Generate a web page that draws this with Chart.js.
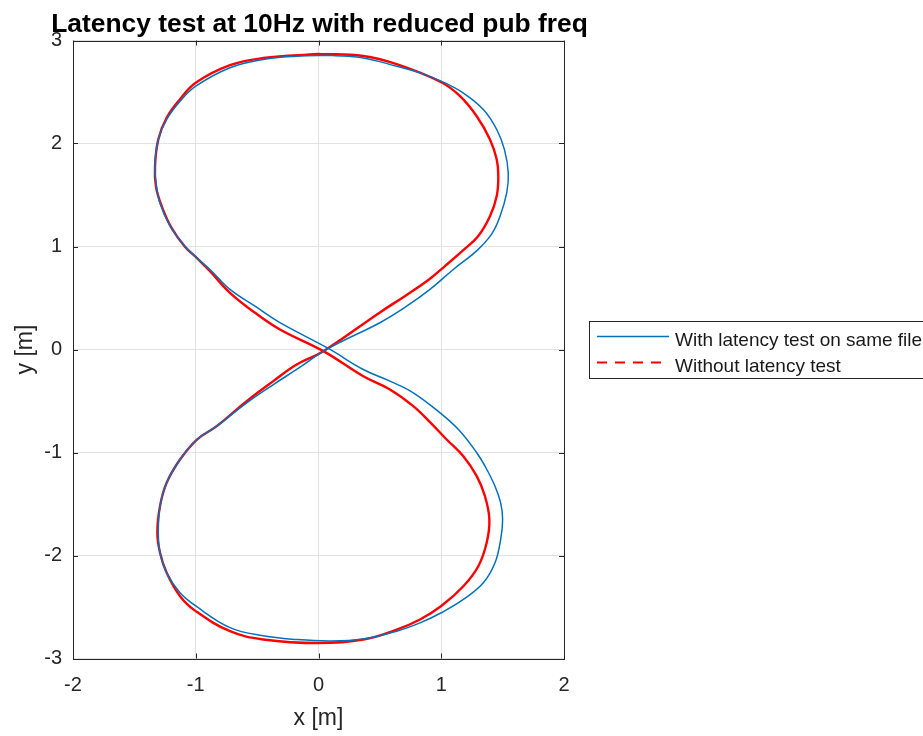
<!DOCTYPE html>
<html>
<head>
<meta charset="utf-8">
<script src="https://cdn.jsdelivr.net/npm/chart.js@4"></script>
<style>
  body { margin: 0; background: #fff; }
  canvas { display: block; }
</style>
</head>
<body>
<canvas id="grafico" width="923" height="736"></canvas>
<script>
// values, in metres (path starts and ends at the top of the upper loop)
const xTicks = [-2, -1, 0, 1, 2];
const yTicks = [-3, -2, -1, 0, 1, 2, 3];

const comLatenciaX = [0.094, 0.365, 0.637, 0.827, 1.0, 1.18, 1.343, 1.452, 1.515, 1.546, 1.533, 1.479, 1.41, 1.29, 1.098, 0.908, 0.718, 0.5, 0.08,
  -0.178, -0.368, -0.585, -0.829, -0.99, -1.128, -1.237, -1.291, -1.305, -1.291, -1.237, -1.128, -1.0, -0.721, -0.45, -0.178, 0.094, 0.365, 0.637, 0.827, 1.0,
  1.18, 1.343, 1.438, 1.484, 1.5, 1.484, 1.438, 1.36, 1.289, 1.153, 0.99, 0.772, 0.582, 0.365, 0.08, -0.314, -0.517, -0.721, -0.884, -0.992,
  -1.1, -1.21, -1.291, -1.324, -1.332, -1.305, -1.237, -1.128, -1.0, -0.721, -0.45, -0.178, 0.094];
const comLatenciaY = [2.857, 2.83, 2.75, 2.686, 2.605, 2.49, 2.33, 2.136, 1.94, 1.715, 1.52, 1.294, 1.12, 0.96, 0.777, 0.583, 0.42, 0.26, 0.01,
  -0.194, -0.34, -0.518, -0.744, -0.874, -1.068, -1.294, -1.52, -1.78, -1.974, -2.168, -2.362, -2.49, -2.7, -2.78, -2.816, -2.83, -2.81, -2.735, -2.654, -2.556,
  -2.427, -2.265, -2.071, -1.845, -1.65, -1.489, -1.327, -1.14, -1.003, -0.793, -0.615, -0.42, -0.307, -0.194, 0.01, 0.26, 0.42, 0.583, 0.777, 0.89,
  1.02, 1.2, 1.42, 1.62, 1.81, 2.04, 2.233, 2.41, 2.556, 2.735, 2.816, 2.848, 2.857];

const semLatenciaX = [0.0, 0.365, 0.637, 1.0, 1.153, 1.289, 1.397, 1.452, 1.465, 1.452, 1.397, 1.3, 1.175, 1.03, 0.9, 0.718, 0.5, 0.04,
  -0.178, -0.368, -0.585, -0.829, -0.99, -1.128, -1.237, -1.291, -1.313, -1.291, -1.237, -1.128, -1.0, -0.721, -0.45, 0.0, 0.365, 0.637, 0.827, 1.0,
  1.18, 1.302, 1.37, 1.392, 1.356, 1.289, 1.18, 1.044, 0.92, 0.772, 0.582, 0.365, 0.04, -0.314, -0.517, -0.721, -0.884, -0.992,
  -1.09, -1.197, -1.277, -1.324, -1.332, -1.305, -1.237, -1.128, -1.0, -0.721, -0.45, 0.0];
const semLatenciaY = [2.87, 2.85, 2.77, 2.595, 2.46, 2.265, 2.04, 1.845, 1.68, 1.49, 1.294, 1.1, 0.96, 0.81, 0.68, 0.53, 0.36, -0.016,
  -0.146, -0.307, -0.502, -0.744, -0.874, -1.068, -1.294, -1.52, -1.78, -1.974, -2.168, -2.395, -2.54, -2.735, -2.815, -2.85, -2.816, -2.72, -2.621, -2.49,
  -2.298, -2.104, -1.877, -1.65, -1.424, -1.23, -1.036, -0.874, -0.72, -0.55, -0.388, -0.26, -0.016, 0.194, 0.356, 0.55, 0.76, 0.89,
  1.0, 1.18, 1.39, 1.58, 1.78, 2.04, 2.25, 2.43, 2.59, 2.76, 2.83, 2.87];

const rotulos = ["With latency test on same file", "Without latency test"];
const titulo = "Latency test at 10Hz with reduced pub freq";

const pontos = (xs, ys) => xs.map((x, i) => ({ x: x, y: ys[i] }));
const fonte = "'Liberation Sans', Arial, sans-serif";

// caixa dos eixos com ticks para dentro (estilo matlab), titulo e legenda
const caixaEixos = {
  id: "caixaEixos",
  afterDatasetsDraw(chart) {
    const { ctx, chartArea: a, scales } = chart;
    ctx.save();
    ctx.strokeStyle = "#262626";
    ctx.lineWidth = 1;
    ctx.strokeRect(Math.round(a.left) + 0.5, Math.round(a.top) + 0.5, Math.round(a.right - a.left), Math.round(a.bottom - a.top));
    ctx.beginPath();
    xTicks.forEach(v => {
      const px = Math.round(scales.x.getPixelForValue(v)) + 0.5;
      ctx.moveTo(px, a.top); ctx.lineTo(px, a.top + 5);
      ctx.moveTo(px, a.bottom); ctx.lineTo(px, a.bottom - 5);
    });
    yTicks.forEach(v => {
      const py = Math.round(scales.y.getPixelForValue(v)) + 0.5;
      ctx.moveTo(a.left, py); ctx.lineTo(a.left + 5, py);
      ctx.moveTo(a.right, py); ctx.lineTo(a.right - 5, py);
    });
    ctx.stroke();
    ctx.restore();
  },
  afterDraw(chart) {
    const { ctx, chartArea: a } = chart;
    ctx.save();
    // titulo centrado sobre os eixos
    ctx.font = "bold 26.4px " + fonte;
    ctx.fillStyle = "#000";
    ctx.textAlign = "center";
    ctx.textBaseline = "alphabetic";
    ctx.fillText(titulo, (a.left + a.right) / 2 + 1, 31.5);

    // legenda fora da area, cortada na borda direita
    const x0 = 589.5, y0 = 321.5;
    ctx.textAlign = "left";
    ctx.fillStyle = "#fff";
    ctx.fillRect(x0, y0, 360, 57);
    ctx.strokeStyle = "#262626";
    ctx.lineWidth = 1;
    ctx.strokeRect(x0, y0, 360, 57);
    ctx.font = "19px " + fonte;
    chart.data.datasets.forEach((ds, i) => {
      const ly = i === 0 ? 336.5 : 362.5;
      ctx.strokeStyle = ds.borderColor;
      ctx.lineWidth = i === 0 ? 1.5 : 2;
      ctx.setLineDash(i === 0 ? [] : [10, 8]);
      ctx.beginPath();
      ctx.moveTo(597, ly); ctx.lineTo(669, ly);
      ctx.stroke();
      ctx.setLineDash([]);
      ctx.fillStyle = "#1a1a1a";
      ctx.fillText(ds.label, 675, ly + 9);
    });
    ctx.restore();
  }
};

new Chart(document.getElementById("grafico"), {
  type: "scatter",
  data: {
    datasets: [
      {
        label: rotulos[0],
        data: pontos(comLatenciaX, comLatenciaY),
        showLine: true,
        borderColor: "#0072BD",
        borderWidth: 1.5,
        pointRadius: 0,
        tension: 0.4
      },
      {
        label: rotulos[1],
        data: pontos(semLatenciaX, semLatenciaY),
        showLine: true,
        borderColor: "#FF0000",
        borderWidth: 2.4,
        pointRadius: 0,
        tension: 0.4
      }
    ]
  },
  options: {
    responsive: false,
    animation: false,
    layout: { padding: { top: 40.5, right: 359, bottom: 0, left: 0 } },
    plugins: {
      legend: { display: false },
      tooltip: { enabled: false },
      title: { display: false }
    },
    scales: {
      x: {
        min: -2, max: 2,
        afterBuildTicks: s => { s.ticks = xTicks.map(v => ({ value: v })); },
        afterFit: s => { s.height = 77.5; },
        grid: { color: "#e2e2e2", drawTicks: false },
        border: { display: false },
        ticks: { color: "#262626", padding: 15, font: { family: fonte, size: 20 } },
        title: { display: true, text: "x [m]", color: "#262626", padding: { top: 0, bottom: 3.7 }, font: { family: fonte, size: 23 } }
      },
      y: {
        min: -3, max: 3,
        afterBuildTicks: s => { s.ticks = yTicks.map(v => ({ value: v })); },
        afterFit: s => { s.width = 73; },
        grid: { color: "#e2e2e2", drawTicks: false },
        border: { display: false },
        ticks: { color: "#262626", padding: 11, font: { family: fonte, size: 20 } },
        title: { display: true, text: "y [m]", color: "#262626", padding: { top: 12, bottom: 0 }, font: { family: fonte, size: 23 } }
      }
    }
  },
  plugins: [caixaEixos]
});
</script>
</body>
</html>
